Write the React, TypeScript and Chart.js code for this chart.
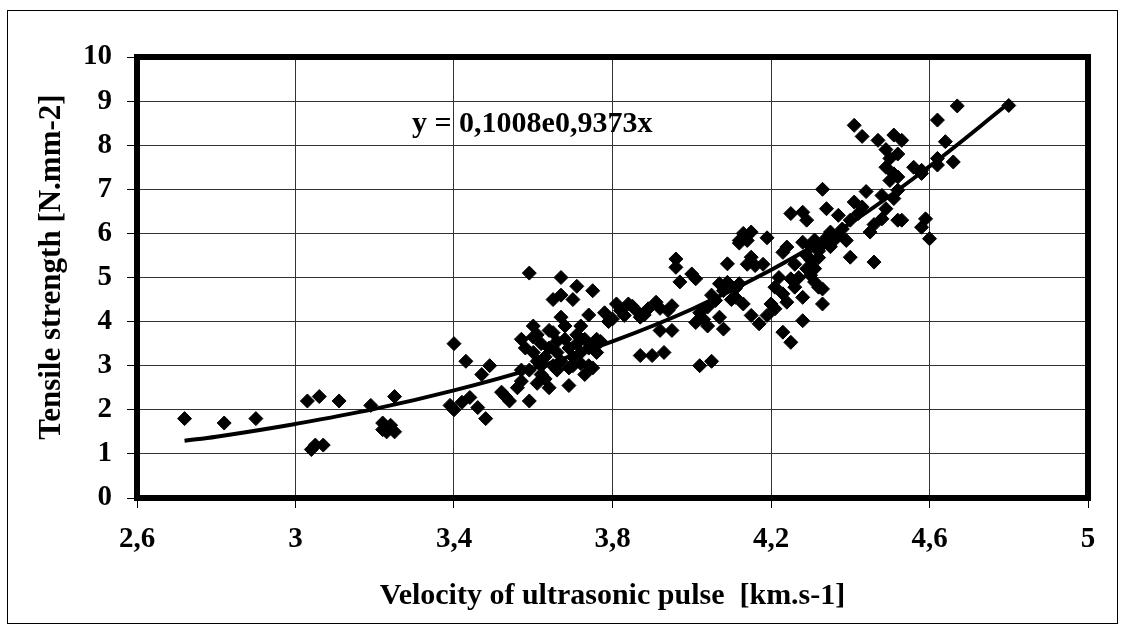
import React, { useEffect, useRef } from "react";
import { Chart, registerables } from "chart.js";

Chart.register(...registerables);

// Measured points: velocity of ultrasonic pulse [km/s] and tensile strength [N/mm2]
const velocity: number[] = [
  2.72, 2.82, 2.90, 3.03, 3.06, 3.11, 3.04, 3.05, 3.07, 3.19, 3.25, 3.22, 3.23, 3.24, 3.25, 3.23, 3.22,
  3.40, 3.43, 3.39, 3.40, 3.42, 3.44, 3.46, 3.48, 3.47, 3.49, 3.52, 3.54, 3.53, 3.56, 3.59, 3.57, 3.61, 3.64, 3.69, 3.73, 3.75, 3.57,
  3.59, 3.67, 3.71, 3.75, 3.65, 3.67, 3.70, 3.67, 3.74, 3.60, 3.61, 3.57, 3.65, 3.72, 3.71,
  3.60, 3.61, 3.62, 3.63, 3.64, 3.65, 3.66, 3.67, 3.68, 3.69, 3.70, 3.71, 3.72, 3.73, 3.74, 3.75, 3.76,
  3.62, 3.66, 3.70, 3.74, 3.60, 3.64, 3.68, 3.76, 3.59, 3.63, 3.77, 3.58, 3.62, 3.69, 3.66, 3.72, 3.76,
  3.81, 3.80, 3.84, 3.83, 3.86, 3.87, 3.89, 3.91, 3.95, 3.92, 3.92, 3.95, 3.87, 3.90, 3.93, 4.02, 4.05,
  3.96, 3.96, 3.97, 4.00, 4.01, 4.09, 4.07, 4.09, 4.12, 4.01, 4.04, 4.07, 4.08, 4.06, 4.11, 4.13, 4.13, 4.12,
  4.02, 4.03, 4.05, 4.08, 4.10, 4.04, 3.82, 3.85, 3.78, 3.79, 3.88, 3.94, 4.11, 4.14, 4.15, 4.16, 4.14, 4.15, 4.19, 4.12,
  4.15, 4.17, 4.19, 4.21, 4.28, 4.23, 4.25, 4.25, 4.21, 4.23, 4.26, 4.24, 4.28, 4.33, 4.33, 4.31, 4.30, 4.31, 4.32,
  4.24, 4.23, 4.25, 4.28, 4.29, 4.33, 4.34, 4.29, 4.30, 4.31, 4.32, 4.33, 4.34, 4.35, 4.37, 4.30, 4.28, 4.32, 4.26,
  4.27, 4.29, 4.22, 4.35, 4.36, 4.18, 4.20,
  4.37, 4.41, 4.42, 4.39, 4.40, 4.46, 4.45, 4.48, 4.49, 4.52, 4.44, 4.41, 4.43, 4.47, 4.51, 4.53, 4.49, 4.50,
  4.49, 4.51, 4.50, 4.52, 4.52, 4.48, 4.51, 4.52, 4.56, 4.58, 4.58, 4.62, 4.62, 4.66, 4.64, 4.62, 4.67, 4.80,
  4.53, 4.58, 4.59, 4.60, 4.43, 4.46, 4.38, 4.40,
];

const strength: number[] = [
  1.8, 1.7, 1.8, 2.2, 2.3, 2.2, 1.1, 1.2, 1.2, 2.1, 2.3, 1.7, 1.5, 1.65, 1.5, 1.6, 1.55,
  3.5, 3.1, 2.1, 2.0, 2.17, 2.28, 2.05, 1.8, 2.8, 3.0, 2.4, 2.2, 2.3, 2.5, 2.2, 2.9, 2.6, 2.5, 2.55, 2.8, 2.95, 2.65,
  5.1, 5.0, 4.8, 4.7, 4.5, 4.6, 4.5, 4.1, 4.15, 3.9, 3.7, 3.6, 3.75, 3.9, 3.7,
  3.3, 3.1, 3.5, 3.2, 3.4, 3.0, 3.3, 3.1, 3.6, 3.4, 3.2, 3.5, 3.3, 3.6, 3.4, 3.5, 3.3,
  2.8, 2.9, 3.0, 3.0, 3.65, 3.8, 3.9, 3.6, 2.9, 2.7, 3.55, 3.4, 3.0, 2.95, 3.55, 3.05, 3.57,
  4.4, 4.06, 4.4, 4.14, 4.25, 4.1, 4.29, 4.44, 4.36, 4.3, 3.8, 3.8, 3.23, 3.23, 3.3, 3.0, 3.1,
  5.42, 5.23, 4.9, 5.08, 4.97, 5.31, 4.86, 4.89, 4.86, 3.98, 4.33, 4.1, 3.83, 4.48, 4.55, 4.4, 6.0, 5.78,
  4.2, 4.05, 4.6, 4.7, 4.5, 3.9, 4.25, 4.35, 4.2, 4.0, 4.15, 4.25, 4.75, 5.3, 5.46, 5.27, 5.84, 6.03, 5.9, 5.84,
  4.14, 3.95, 4.14, 4.29, 4.02, 3.76, 3.53, 4.97, 4.78, 4.63, 4.78, 4.44, 4.55, 4.74, 4.4, 4.9, 5.05, 5.2, 4.78,
  5.69, 5.57, 6.45, 6.48, 6.3, 7.0, 6.56, 5.5, 5.7, 5.85, 5.6, 5.75, 5.9, 6.03, 5.95, 5.4, 5.8, 5.45, 5.3,
  5.0, 5.2, 5.0, 5.7, 5.85, 5.3, 4.4,
  6.41, 6.71, 6.45, 5.84, 5.46, 5.35, 6.03, 6.33, 6.56, 6.3, 6.95, 8.45, 8.2, 8.11, 8.23, 8.11, 7.9, 7.7,
  7.5, 7.35, 7.2, 7.8, 7.28, 6.86, 6.79, 6.98, 7.5, 7.36, 7.43, 7.55, 7.7, 7.62, 8.08, 8.57, 8.89, 8.9,
  6.3, 6.14, 6.33, 5.88, 6.6, 6.2, 6.1, 6.3,
];

// Exponential trendline
const trendX: number[] = [2.72, 2.8, 3.0, 3.2, 3.4, 3.6, 3.8, 4.0, 4.2, 4.4, 4.6, 4.8];
const trendY: number[] = [1.3, 1.39, 1.68, 2.02, 2.44, 2.94, 3.55, 4.28, 5.17, 6.23, 7.52, 8.95];

const xTitle = "Velocity of ultrasonic pulse  [km.s-1]";
const yTitle = "Tensile strength [N.mm-2]";
const equation = "y = 0,1008e0,9373x";

const FONT = '"Liberation Serif", "Times New Roman", serif';

export default function App() {
  const canvasRef = useRef<HTMLCanvasElement | null>(null);

  useEffect(() => {
    const canvas = canvasRef.current;
    if (!canvas) return;

    const points = velocity.map((v, i) => ({ x: v, y: strength[i] }));
    const trend = trendX.map((v, i) => ({ x: v, y: trendY[i] }));

    const decorations = {
      id: "decorations",
      afterDraw(chart: any) {
        const { ctx, chartArea } = chart;
        ctx.save();
        // thick plot frame
        ctx.strokeStyle = "#000";
        ctx.lineWidth = 6;
        ctx.lineJoin = "miter";
        ctx.strokeRect(
          chartArea.left,
          chartArea.top,
          chartArea.right - chartArea.left,
          chartArea.bottom - chartArea.top
        );
        ctx.fillStyle = "#000";
        // equation
        ctx.font = `bold 30px ${FONT}`;
        ctx.textAlign = "left";
        ctx.textBaseline = "alphabetic";
        ctx.fillText(equation, 412, 132);
        // x title
        ctx.font = `bold 30px ${FONT}`;
        ctx.textAlign = "center";
        ctx.fillText(xTitle, (chartArea.left + chartArea.right) / 2, 604);
        // y title
        ctx.font = `bold 31px ${FONT}`;
        ctx.translate(60, 267);
        ctx.rotate(-Math.PI / 2);
        ctx.fillText(yTitle, 0, 0);
        ctx.restore();
      },
    };

    const fmt = (v: number) => String(Number(v.toFixed(1))).replace(".", ",");

    const chart = new Chart(canvas, {
      type: "scatter",
      data: {
        datasets: [
          {
            type: "line",
            label: "trend",
            data: trend,
            borderColor: "#000",
            borderWidth: 4,
            pointRadius: 0,
            fill: false,
            tension: 0.4,
            order: 0,
          } as any,
          {
            label: "data",
            data: points,
            pointStyle: "rectRot",
            pointRadius: 7,
            pointBackgroundColor: "#000",
            pointBorderColor: "#000",
            pointBorderWidth: 1,
            showLine: false,
            order: 1,
          },
        ],
      },
      options: {
        animation: false,
        responsive: false,
        maintainAspectRatio: false,
        events: [],
        layout: { padding: { top: 57, right: 37, left: 0, bottom: 0 } },
        plugins: { legend: { display: false }, tooltip: { enabled: false } },
        scales: {
          x: {
            type: "linear",
            min: 2.6,
            max: 5.0,
            afterFit: (s: any) => {
              s.height = 134;
            },
            ticks: {
              stepSize: 0.4,
              color: "#000",
              font: { family: FONT, size: 29, weight: "bold" },
              padding: 14,
              maxRotation: 0,
              autoSkip: false,
              callback: (v: any) => fmt(Number(v)),
            },
            grid: { color: "#333", lineWidth: 1, tickColor: "#000", tickLength: 10 },
            border: { display: false },
          },
          y: {
            type: "linear",
            min: 0,
            max: 10,
            afterFit: (s: any) => {
              s.width = 137;
            },
            ticks: {
              stepSize: 1,
              color: "#000",
              font: { family: FONT, size: 29, weight: "bold" },
              padding: 15,
              autoSkip: false,
              callback: (v: any) => fmt(Number(v)),
            },
            grid: { color: "#333", lineWidth: 1, tickColor: "#000", tickLength: 10 },
            border: { display: false },
          },
        },
      },
      plugins: [decorations],
    } as any);

    return () => chart.destroy();
  }, []);

  return (
    <div style={{ position: "fixed", left: 0, top: 0, width: 1125, height: 632, background: "#fff" }}>
      <div
        style={{
          position: "absolute",
          left: 7,
          top: 10,
          width: 1111,
          height: 614,
          border: "1px solid #000",
          boxSizing: "border-box",
        }}
      />
      <canvas
        ref={canvasRef}
        width={1125}
        height={632}
        style={{ position: "absolute", left: 0, top: 0, width: 1125, height: 632 }}
      />
    </div>
  );
}
